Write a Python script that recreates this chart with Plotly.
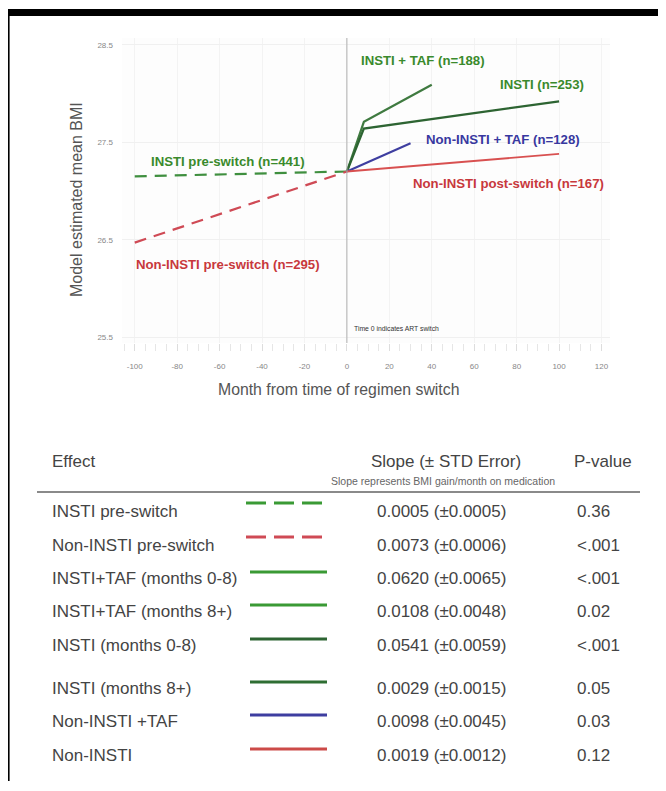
import plotly.graph_objects as go

# page has an 8px body margin, so the figure is drawn 8px in from the top-left
OFF = 8
W, H = 658, 773

# ---------------- chart data (months from switch, model estimated BMI) ----------------
months_pre = [-100, 0]
insti_pre = [27.15, 27.20]
noninsti_pre = [26.47, 27.20]

months_insti_taf = [0, 8, 40]
insti_taf = [27.20, 27.71, 28.09]

months_insti = [0, 8, 100]
insti_post = [27.20, 27.64, 27.92]

months_noninsti_taf = [0, 30]
noninsti_taf = [27.20, 27.49]

months_noninsti = [0, 100]
noninsti_post = [27.20, 27.38]

x_ticks = [-100, -80, -60, -40, -20, 0, 20, 40, 60, 80, 100, 120]
y_ticks = [25.5, 26.5, 27.5, 28.5]

# ---------------- table data ----------------
effects = ["INSTI pre-switch", "Non-INSTI pre-switch", "INSTI+TAF (months 0-8)",
           "INSTI+TAF (months 8+)", "INSTI (months 0-8)", "INSTI (months 8+)",
           "Non-INSTI +TAF", "Non-INSTI"]
slopes = ["0.0005 (±0.0005)", "0.0073 (±0.0006)", "0.0620 (±0.0065)", "0.0108 (±0.0048)",
          "0.0541 (±0.0059)", "0.0029 (±0.0015)", "0.0098 (±0.0045)", "0.0019 (±0.0012)"]
pvalues = ["0.36", "<.001", "<.001", "0.02", "<.001", "0.05", "0.03", "0.12"]

GREEN = "#3f8f3f"
GREEN_L = "#3a9a35"
DGREEN = "#2d6432"
RED = "#cf4a55"
REDL = "#cc4a48"
BLUE = "#3e3ea0"

row_colors = [GREEN_L, RED, GREEN_L, GREEN_L, DGREEN, "#2e6e33", BLUE, REDL]
row_dash = ["dash", "dash", "solid", "solid", "solid", "solid", "solid", "solid"]
row_y = [511, 545, 578, 611, 645, 688, 721, 755]

FONT = "Liberation Sans, Arial, sans-serif"


def px(x):
    return (x - OFF) / W


def py(y):
    return 1 - (y - OFF) / H


fig = go.Figure()

fig.add_trace(go.Scatter(x=months_pre, y=insti_pre, mode="lines",
                         line=dict(color=GREEN, width=2.2, dash="12px,8px")))
fig.add_trace(go.Scatter(x=months_pre, y=noninsti_pre, mode="lines",
                         line=dict(color=RED, width=2.2, dash="12px,8px")))
fig.add_trace(go.Scatter(x=months_insti_taf, y=insti_taf, mode="lines",
                         line=dict(color="#3f7a40", width=2.2)))
fig.add_trace(go.Scatter(x=months_insti, y=insti_post, mode="lines",
                         line=dict(color=DGREEN, width=2.2)))
fig.add_trace(go.Scatter(x=months_noninsti_taf, y=noninsti_taf, mode="lines",
                         line=dict(color=BLUE, width=2)))
fig.add_trace(go.Scatter(x=months_noninsti, y=noninsti_post, mode="lines",
                         line=dict(color="#d85050", width=1.8)))

ann = []


def lab(text, x, y, color, size=13.2, bold=True, xanchor="center"):
    ann.append(dict(text=("<b>%s</b>" % text) if bold else text, x=x, y=y, xref="x", yref="y",
                    showarrow=False, xanchor=xanchor, yanchor="middle",
                    font=dict(family=FONT, size=size, color=color)))


lab("INSTI + TAF (n=188)", 36.0, 28.34, "#3a8a2c")
lab("INSTI (n=253)", 92.0, 28.09, "#3a8a2c")
lab("Non-INSTI + TAF (n=128)", 73.5, 27.53, "#3838a0")
lab("Non-INSTI post-switch (n=167)", 76.0, 27.08, "#c8383c")
lab("INSTI pre-switch (n=441)", -56.0, 27.30, "#3a8a2c")
lab("Non-INSTI pre-switch (n=295)", -56.0, 26.25, "#c8383c")
lab("Time 0 indicates ART switch", 2.3, 25.59, "#333333", size=6.8, bold=False, xanchor="left")

# axis titles
ann.append(dict(text="Model estimated mean BMI", x=px(77), y=py(200), xref="paper", yref="paper",
                showarrow=False, textangle=-90, xanchor="center", yanchor="middle",
                font=dict(family=FONT, size=16, color="#555555")))
ann.append(dict(text="Month from time of regimen switch", x=px(338), y=py(389), xref="paper",
                yref="paper", showarrow=False, xanchor="center", yanchor="middle",
                font=dict(family=FONT, size=15.8, color="#555555")))

# table header
TF = dict(family=FONT, size=17, color="#444444")
ann.append(dict(text="Effect", x=px(50), y=py(461), xref="paper", yref="paper", showarrow=False,
                xanchor="left", yanchor="middle", font=TF))
ann.append(dict(text="Slope (± STD Error)", x=px(446), y=py(461), xref="paper", yref="paper",
                showarrow=False, xanchor="center", yanchor="middle", font=TF))
ann.append(dict(text="P-value", x=px(572), y=py(461), xref="paper", yref="paper", showarrow=False,
                xanchor="left", yanchor="middle", font=TF))
ann.append(dict(text="Slope represents BMI gain/month on medication", x=px(443), y=py(481),
                xref="paper", yref="paper", showarrow=False, xanchor="center", yanchor="middle",
                font=dict(family=FONT, size=10.5, color="#666666")))

shapes = []
# black frame
shapes.append(dict(type="rect", xref="paper", yref="paper", x0=px(8), x1=px(666), y0=py(16),
                   y1=py(9), fillcolor="black", line=dict(width=0)))
shapes.append(dict(type="rect", xref="paper", yref="paper", x0=px(8), x1=px(9.6), y0=0,
                   y1=py(9), fillcolor="black", line=dict(width=0)))
# header rule
shapes.append(dict(type="line", xref="paper", yref="paper", x0=px(37), x1=px(640), y0=py(492),
                   y1=py(492), line=dict(color="#8a8a8a", width=2)))
# vertical line at time 0
shapes.append(dict(type="line", xref="x", yref="paper", x0=0, x1=0, y0=py(343), y1=py(38),
                   line=dict(color="#b0b0b0", width=1)))

for i, (eff, sl, pv) in enumerate(zip(effects, slopes, pvalues)):
    yc = row_y[i]
    ann.append(dict(text=eff, x=px(50), y=py(yc), xref="paper", yref="paper", showarrow=False,
                    xanchor="left", yanchor="middle", font=TF))
    ann.append(dict(text=sl, x=px(375), y=py(yc), xref="paper", yref="paper", showarrow=False,
                    xanchor="left", yanchor="middle", font=TF))
    ann.append(dict(text=pv, x=px(575), y=py(yc), xref="paper", yref="paper", showarrow=False,
                    xanchor="left", yanchor="middle", font=TF))
    ly = yc - 8 if row_dash[i] == "dash" else yc - 6
    x0 = 246 if row_dash[i] == "dash" else 250
    shapes.append(dict(type="line", xref="paper", yref="paper", x0=px(x0), x1=px(327),
                       y0=py(ly), y1=py(ly),
                       line=dict(color=row_colors[i], width=3,
                                 dash="20px,8px" if row_dash[i] == "dash" else "solid")))

fig.update_layout(
    width=W, height=H, margin=dict(l=0, r=0, t=0, b=0),
    paper_bgcolor="white", plot_bgcolor="#fdfdfd",
    showlegend=False,
    font=dict(family=FONT),
    annotations=ann, shapes=shapes,
    xaxis=dict(domain=[px(122), px(610)], range=[-106, 124], tickvals=x_ticks,
               ticktext=[str(v) for v in x_ticks], showgrid=True, gridcolor="#f3f3f3",
               zeroline=False, ticks="outside", ticklen=7, tickcolor="#dddddd",
               minor=dict(ticks="outside", dtick=5, ticklen=7, tickcolor="#e6e6e6"),
               tickfont=dict(family=FONT, size=8, color="#888888"), ticklabelstandoff=8,
               showline=False, fixedrange=True),
    yaxis=dict(domain=[py(343), py(38)], range=[25.44, 28.57], tickvals=y_ticks,
               ticktext=["25.5", "26.5", "27.5", "28.5"], showgrid=True, gridcolor="#f0f0f0",
               zeroline=False, tickfont=dict(family=FONT, size=8, color="#888888"),
               ticklabelstandoff=8, showline=False, fixedrange=True),
)

fig.write_html("out.html")
